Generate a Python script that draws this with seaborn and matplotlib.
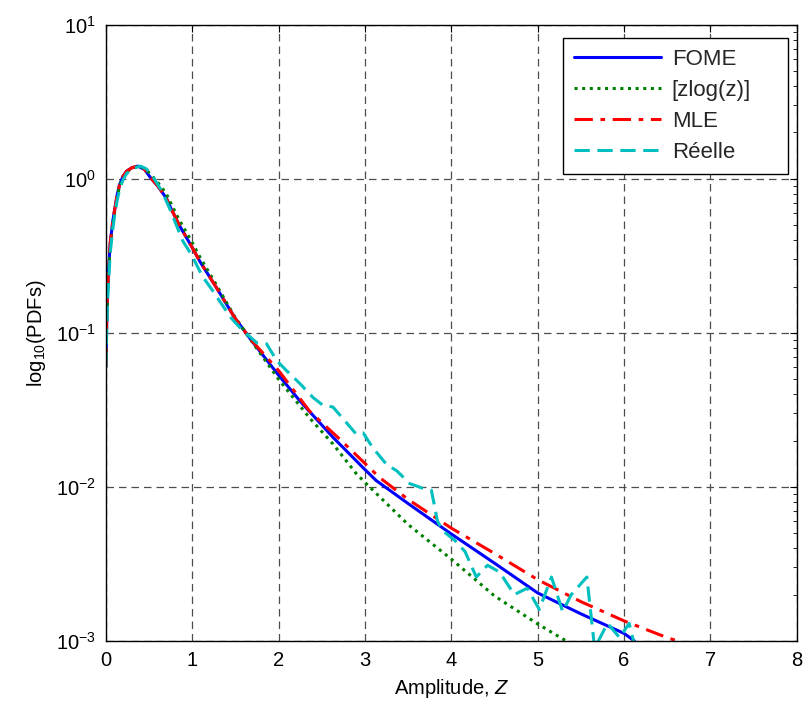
import numpy as np
import pandas as pd
import matplotlib
matplotlib.use("Agg")
import matplotlib.pyplot as plt
from matplotlib.ticker import LogLocator, NullFormatter, FixedLocator
import seaborn as sns

# ---------------- data ----------------
fome_x = [0, 0.01, 0.02, 0.05, 0.08, 0.1, 0.13, 0.16, 0.2, 0.24, 0.3, 0.37, 0.45, 0.51, 0.6, 0.7,
          0.75, 0.85, 1.0, 1.09, 1.28, 1.49, 1.69, 1.99, 2.25, 2.63, 2.98, 3.13, 3.5, 4.0, 4.5,
          5.0, 5.5, 6.0, 6.12]
fome_y = [0.06, 0.12, 0.2, 0.38, 0.53, 0.62, 0.78, 0.92, 1.04, 1.12, 1.18, 1.21, 1.15, 1.03, 0.9,
          0.75, 0.65, 0.5, 0.358, 0.29, 0.197, 0.126, 0.0887, 0.054, 0.036, 0.021, 0.0133, 0.011,
          0.0078, 0.00495, 0.0032, 0.00205, 0.0015, 0.00112, 0.001]

zlog_x = [0, 0.01, 0.02, 0.05, 0.08, 0.1, 0.13, 0.16, 0.2, 0.24, 0.3, 0.37, 0.45, 0.51, 0.6, 0.7,
          0.75, 0.85, 1.0, 1.09, 1.28, 1.49, 1.69, 2.0, 2.36, 2.63, 2.9, 3.0, 3.5, 4.0, 4.5, 5.0,
          5.33]
zlog_y = [0.06, 0.12, 0.19, 0.36, 0.5, 0.6, 0.76, 0.9, 1.02, 1.11, 1.17, 1.21, 1.17, 1.08, 0.95,
          0.8, 0.7, 0.54, 0.386, 0.31, 0.205, 0.128, 0.088, 0.05, 0.028, 0.019, 0.0122, 0.0107,
          0.0057, 0.0034, 0.00196, 0.00129, 0.001]

mle_x = [0, 0.01, 0.02, 0.05, 0.08, 0.1, 0.13, 0.16, 0.2, 0.24, 0.3, 0.37, 0.45, 0.51, 0.6, 0.7,
         0.75, 0.85, 1.0, 1.09, 1.28, 1.49, 1.69, 2.0, 2.36, 2.75, 3.17, 3.5, 4.0, 4.5, 5.0, 5.5,
         6.0, 6.5, 6.62]
mle_y = [0.06, 0.12, 0.2, 0.38, 0.53, 0.62, 0.78, 0.92, 1.04, 1.12, 1.18, 1.21, 1.15, 1.03, 0.9,
         0.75, 0.65, 0.5, 0.358, 0.29, 0.197, 0.126, 0.089, 0.057, 0.031, 0.0194, 0.0115, 0.0083,
         0.0054, 0.0037, 0.0025, 0.0018, 0.00135, 0.00105, 0.001]

reel_x = [0, 0.01, 0.02, 0.05, 0.08, 0.1, 0.13, 0.16, 0.2, 0.24, 0.3, 0.4, 0.47, 0.55, 0.65, 0.75,
          0.89, 1.0, 1.09, 1.13, 1.24, 1.32, 1.45, 1.59, 1.75, 1.86, 1.98, 2.09, 2.245, 2.4, 2.51,
          2.63, 2.74, 2.9, 2.98, 3.09, 3.25, 3.37, 3.52, 3.67, 3.77, 3.84, 3.9, 4.04, 4.16, 4.29,
          4.42, 4.56, 4.73, 4.88, 5.02, 5.16, 5.29, 5.39, 5.57, 5.66, 5.81, 5.95, 6.06, 6.12]
reel_y = [0.06, 0.1, 0.16, 0.33, 0.47, 0.57, 0.72, 0.86, 0.99, 1.08, 1.16, 1.21, 1.16, 1.02, 0.83,
          0.62, 0.396, 0.316, 0.25, 0.228, 0.187, 0.16, 0.125, 0.103, 0.086, 0.085, 0.066, 0.057,
          0.047, 0.038, 0.034, 0.033, 0.028, 0.022, 0.0224, 0.018, 0.014, 0.0127, 0.0105, 0.0098,
          0.0095, 0.006, 0.0052, 0.0045, 0.0038, 0.0026, 0.0031, 0.0028, 0.002, 0.0022, 0.0016,
          0.0026, 0.00155, 0.002, 0.0026, 0.0009, 0.0013, 0.00105, 0.0013, 0.00095]

labels = ["FOME", "[zlog(z)]", "MLE", "Réelle"]
x_ticks = [0, 1, 2, 3, 4, 5, 6, 7, 8]

# ---------------- style ----------------
sns.set_theme(style="white")
plt.rcParams["font.family"] = ["Liberation Sans", "DejaVu Sans"]
plt.rcParams["mathtext.fontset"] = "custom"
plt.rcParams["mathtext.rm"] = "Liberation Sans"
plt.rcParams["mathtext.it"] = "Liberation Sans:italic"
plt.rcParams["mathtext.default"] = "regular"

fig = plt.figure(figsize=(8.08, 7.09), dpi=100)
ax = fig.add_axes([0.131, 0.096, 0.855, 0.869])

series = [
    (fome_x, fome_y, labels[0], (0, 0, 1), "-"),
    (zlog_x, zlog_y, labels[1], (0, 0.5, 0), (0, (1, 1.5))),
    (mle_x, mle_y, labels[2], (1, 0, 0), (0, (6, 2.5, 1.5, 2.5))),
    (reel_x, reel_y, labels[3], (0, 0.75, 0.75), (0, (5, 2.5))),
]
for xs, ys, lab, col, ls in series:
    df = pd.DataFrame({"x": xs, "y": ys})
    sns.lineplot(data=df, x="x", y="y", ax=ax, color=col, linestyle=ls, linewidth=2.2,
                 label=lab, sort=False, estimator=None)

ax.set_yscale("log")
ax.set_xlim(0, 8)
ax.set_ylim(1e-3, 10)
ax.xaxis.set_major_locator(FixedLocator(x_ticks))
ax.yaxis.set_major_locator(LogLocator(base=10, numticks=10))
ax.yaxis.set_minor_locator(LogLocator(base=10, subs=np.arange(2, 10), numticks=20))
ax.yaxis.set_minor_formatter(NullFormatter())

ax.grid(True, which="major", color="0.3", linestyle=(0, (6, 4)), linewidth=0.9)
ax.tick_params(which="both", direction="in", top=True, right=True, labelsize=14.5,
               colors="black")
ax.tick_params(which="major", length=5, width=0.8, pad=7)
ax.tick_params(which="minor", length=3, width=0.6)
for sp in ax.spines.values():
    sp.set_color("black")
    sp.set_linewidth(1.0)

ax.set_xlabel("Amplitude, $\\mathit{Z}$", fontsize=14.5, color="black", labelpad=5)
ax.set_ylabel("log$_{10}$(PDFs)", fontsize=14.5, color="black", labelpad=6)

# legend box: left at 563 px, right at 788 px, top 13 px below the axes top
x0 = (563 - 106) / 691
w = (788 - 563) / 691
top = 1 - 13 / 616
leg = ax.legend(loc="upper left", bbox_to_anchor=(x0, 0.5, w, top - 0.5), mode="expand",
                borderaxespad=0, fontsize=16, frameon=True, fancybox=False,
                edgecolor="black", framealpha=1, handlelength=3.9, handletextpad=0.5,
                labelspacing=0.45, borderpad=0.5)
leg.get_frame().set_linewidth(1.0)

fig.savefig("out.png", dpi=100)
